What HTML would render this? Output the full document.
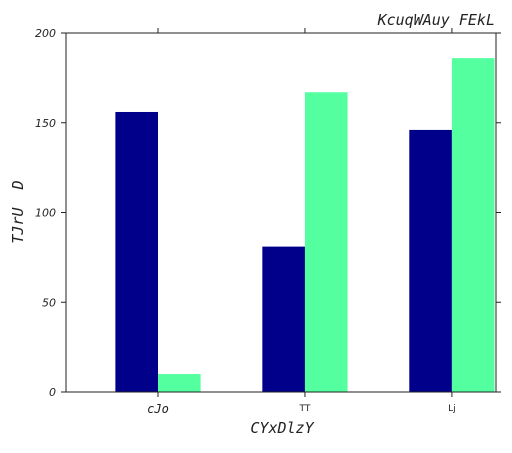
<!DOCTYPE html>
<html><head><meta charset="utf-8"><style>
body{margin:0;background:#fff;}
text{font-family:"DejaVu Sans Mono","Liberation Mono",monospace;font-style:italic;fill:#222;}
text.tick{font-family:"DejaVu Sans","Liberation Sans",sans-serif;font-style:oblique;}
</style></head><body>
<svg id="chart" width="512" height="448" xmlns="http://www.w3.org/2000/svg"></svg>
<script>
const categories=["cJo","TT","Lj"];
const seriesA=[156,81,146];
const seriesB=[10,167,186];
const yTicks=[0,50,100,150,200];
const svg=document.getElementById('chart');
const NS='http://www.w3.org/2000/svg';
const L=66,R=496,T=33,B=392;
const xMin=-0.626,xMax=2.3,yMax=200;
const xs=v=>L+(v-xMin)/(xMax-xMin)*(R-L);
const ys=v=>B-v/yMax*(B-T);
const bw=0.29;
function mk(tag,attrs,parent){const e=document.createElementNS(NS,tag);for(const k in attrs)e.setAttribute(k,attrs[k]);(parent||svg).appendChild(e);return e;}
categories.forEach((c,i)=>{
  const a=mk('rect',{x:xs(i-bw),y:ys(seriesA[i]),width:xs(i)-xs(i-bw),height:B-ys(seriesA[i]),fill:'#00008b'});
  
  
  const b=mk('rect',{x:xs(i),y:ys(seriesB[i]),width:xs(i+bw)-xs(i),height:B-ys(seriesB[i]),fill:'#54ffa0'});
  
  
  const x=xs(i);
  mk('line',{x1:x,x2:x,y1:B,y2:B+5,stroke:'#222'});
  mk('line',{x1:x,x2:x,y1:T,y2:T-5,stroke:'#222'});
  const small=i>0;
  const t=mk('text',{x:x,y:small?B+19:B+21,'text-anchor':'middle','font-size':small?9:12,'class':small?'tick':''});
  if(small)t.setAttribute('style','font-style:normal');
  t.textContent=c;
  
  
});
yTicks.forEach(v=>{
  const y=ys(v);
  mk('line',{x1:L-5,x2:L,y1:y,y2:y,stroke:'#222'});
  mk('line',{x1:R,x2:R+5,y1:y,y2:y,stroke:'#222'});
  const t=mk('text',{x:L-10,y:y+4,'text-anchor':'end','font-size':11,'class':'tick'});
  t.textContent=v;
  
  
});
const f=mk('rect',{x:L,y:T,width:R-L,height:B-T,fill:'none',stroke:'#222','stroke-width':1});


const ti=mk('text',{x:495,y:25,'text-anchor':'end','font-size':15});
ti.textContent='KcuqWAuy FEkL';


const xl=mk('text',{x:282,y:433,'text-anchor':'middle','font-size':15});
xl.textContent='CYxDlzY';


const yl=mk('text',{x:0,y:0,'text-anchor':'middle','font-size':15,transform:'translate(23,212) rotate(-90)'});
yl.textContent='TJrU\u00a0\u00a0D';


</script>
</body></html>
